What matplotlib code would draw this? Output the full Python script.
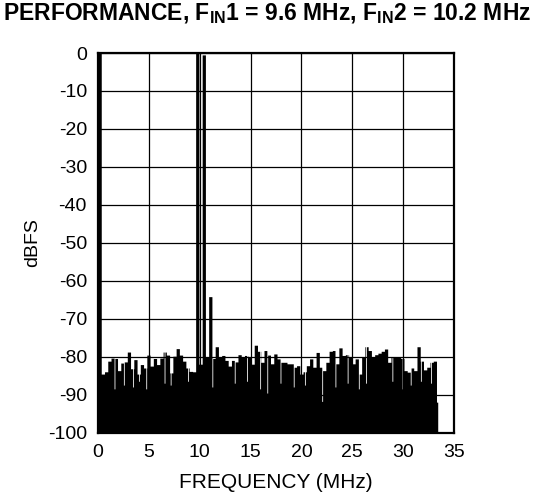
import matplotlib.pyplot as plt
import numpy as np

plt.rcParams['font.family'] = ['Liberation Sans', 'DejaVu Sans']
plt.rcParams['mathtext.fontset'] = 'custom'
plt.rcParams['mathtext.rm'] = 'Liberation Sans:bold'
plt.rcParams['mathtext.bf'] = 'Liberation Sans:bold'
plt.rcParams['axes.unicode_minus'] = False

# FFT bins, 0.32 MHz wide, level in dBFS
bin_width = 0.32
levels = [
    0.0, -84.6, -84.0, -81.2, -80.4, -80.5, -83.7, -81.7, -81.4, -78.8,
    -83.2, -80.8, -84.6, -82.1, -83.0, -79.6, -82.5, -80.5, -82.1, -80.4,
    -78.8, -79.6, -84.3, -79.9, -77.9, -79.6, -81.2, -83.0, -83.9, -84.0,
    0.0, -82.0, -0.5, -80.0, -64.2, -80.5, -77.4, -80.0, -79.7, -81.0,
    -82.5, -81.0, -81.4, -79.5, -80.0, -79.7, -80.0, -82.0, -77.0, -78.6,
    -81.5, -78.4, -79.6, -81.9, -79.3, -80.6, -81.5, -81.5, -81.9, -81.9,
    -82.8, -82.4, -84.6, -84.0, -82.4, -80.6, -82.8, -78.9, -82.8, -83.7,
    -81.5, -78.6, -78.4, -81.9, -77.7, -79.7, -79.5, -80.2, -81.9, -80.6,
    -84.6, -80.2, -77.4, -78.4, -80.0, -79.5, -79.1, -78.6, -78.0, -81.5,
    -80.2, -80.0, -80.2, -80.5, -83.7, -84.1, -83.0, -83.7, -77.4, -81.2,
    -83.5, -82.8, -81.5, -81.2,
]
end_freq = 33.4
end_level = -92.0

# narrow dips in the trace (MHz, dBFS)
dip_freqs = [1.57, 2.5, 3.4, 4.0, 4.7, 6.5, 7.1, 8.8, 11.2, 13.4, 14.6,
             15.9, 16.6, 17.9, 19.2, 20.3, 22.0, 23.3, 24.5, 25.6, 26.3,
             28.9, 29.9, 30.7, 31.7, 32.7]
dip_levels = [-88.5, -87.5, -88.0, -86.5, -88.5, -87.0, -87.5, -86.5, -88.0,
              -87.0, -86.5, -88.5, -89.6, -87.0, -88.0, -87.5, -91.8, -88.0,
              -87.0, -88.5, -87.0, -86.5, -88.5, -87.5, -86.5, -87.0]
dip_width = 0.08

# build the trace on a fine grid
step = 0.02
freq = np.arange(0, end_freq, step)
idx = np.floor(freq / bin_width).astype(int)
all_levels = np.array(levels + [end_level])
trace = all_levels[np.minimum(idx, len(levels))]
for f, lv in zip(dip_freqs, dip_levels):
    m = (freq >= f) & (freq < f + dip_width)
    trace[m] = np.minimum(trace[m], lv)
freq = np.append(freq, end_freq)
trace = np.append(trace, trace[-1])

fig = plt.figure(figsize=(5.34, 5.01), dpi=100)
ax = fig.add_axes([98 / 534, 1 - 432.5 / 501, 356 / 534, 379.5 / 501])

ax.fill_between(freq, -100, trace, step='post', color='black', linewidth=0, zorder=3)

ax.set_xlim(0, 35)
ax.set_ylim(-100, 0)
ax.set_xticks(np.arange(0, 36, 5))
ax.set_yticks(np.arange(-100, 1, 10))
ax.grid(True, color='black', linewidth=0.9, zorder=1)
ax.set_axisbelow(True)
ax.tick_params(length=0, labelsize=14, pad=8, colors='black')
for s in ax.spines.values():
    s.set_linewidth(1.6)
    s.set_zorder(4)

ax.set_xlabel('FREQUENCY (MHz)', fontsize=15, labelpad=9)
ax.set_ylabel('dBFS', fontsize=14, labelpad=5)

fig.text(0.994, 0.972, r'PERFORMANCE, F$_{\mathbf{IN}}$1 = 9.6 MHz, F$_{\mathbf{IN}}$2 = 10.2 MHz',
         ha='right', va='center', fontsize=16.5, fontweight='bold')

fig.savefig('out.png', dpi=100)
